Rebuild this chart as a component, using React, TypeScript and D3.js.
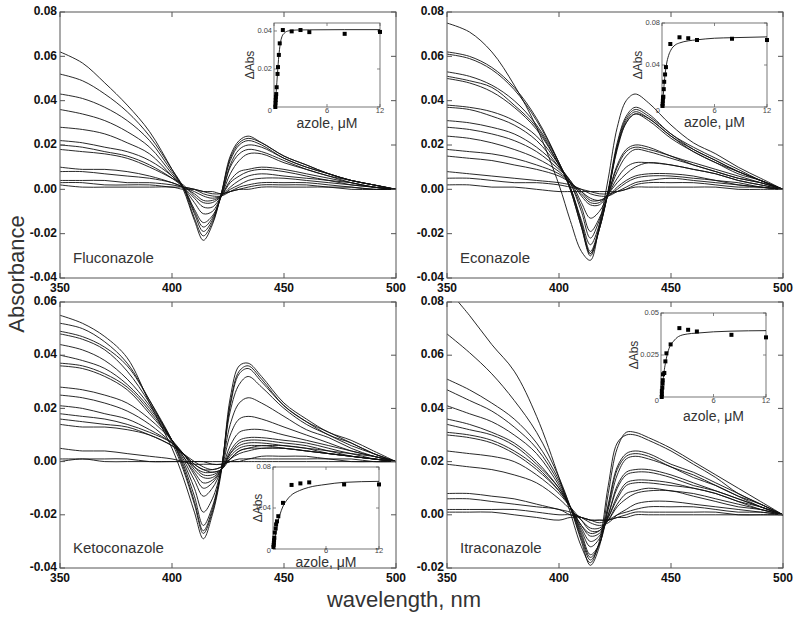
import React from "react";
import * as d3 from "d3";

// ---------- DATA ----------
const WAVELENGTHS = [350, 360, 370, 380, 390, 400, 405, 410, 414, 418, 422, 426, 430, 434, 440, 450, 460, 470, 480, 490, 500];

const FLUCONAZOLE_SPECTRA: number[][] = [
  [0.062, 0.057, 0.048, 0.038, 0.026, 0.009, 0.0, -0.014, -0.023, -0.016, -0.002, 0.015, 0.022, 0.024, 0.021, 0.015, 0.011, 0.007, 0.004, 0.002, 0],
  [0.052, 0.049, 0.043, 0.035, 0.024, 0.009, 0.001, -0.013, -0.021, -0.015, -0.002, 0.014, 0.021, 0.023, 0.021, 0.015, 0.011, 0.007, 0.004, 0.002, 0],
  [0.043, 0.041, 0.037, 0.031, 0.022, 0.008, 0.001, -0.011, -0.019, -0.014, -0.002, 0.013, 0.020, 0.022, 0.020, 0.014, 0.010, 0.007, 0.004, 0.002, 0],
  [0.036, 0.034, 0.031, 0.026, 0.019, 0.007, 0.001, -0.010, -0.017, -0.013, -0.003, 0.011, 0.018, 0.020, 0.019, 0.014, 0.010, 0.007, 0.004, 0.002, 0],
  [0.028, 0.027, 0.025, 0.021, 0.016, 0.006, 0.001, -0.009, -0.015, -0.012, -0.003, 0.010, 0.016, 0.018, 0.017, 0.013, 0.009, 0.006, 0.004, 0.002, 0],
  [0.022, 0.021, 0.019, 0.017, 0.013, 0.006, 0.001, -0.006, -0.011, -0.010, -0.003, 0.007, 0.013, 0.016, 0.016, 0.012, 0.009, 0.006, 0.003, 0.001, 0],
  [0.020, 0.019, 0.017, 0.015, 0.011, 0.005, 0.001, -0.004, -0.008, -0.008, -0.003, 0.004, 0.008, 0.009, 0.010, 0.009, 0.007, 0.005, 0.003, 0.001, 0],
  [0.018, 0.017, 0.016, 0.014, 0.010, 0.005, 0.002, -0.003, -0.006, -0.006, -0.003, 0.003, 0.006, 0.008, 0.009, 0.008, 0.006, 0.004, 0.003, 0.001, 0],
  [0.010, 0.009, 0.009, 0.008, 0.006, 0.003, 0.001, -0.002, -0.005, -0.005, -0.003, 0.001, 0.004, 0.006, 0.007, 0.006, 0.005, 0.004, 0.002, 0.001, 0],
  [0.008, 0.008, 0.007, 0.006, 0.005, 0.003, 0.001, -0.001, -0.003, -0.004, -0.003, 0.0, 0.002, 0.004, 0.005, 0.005, 0.004, 0.003, 0.002, 0.001, 0],
  [0.004, 0.004, 0.004, 0.003, 0.003, 0.002, 0.001, 0.0, -0.002, -0.003, -0.003, -0.001, 0.001, 0.002, 0.003, 0.003, 0.003, 0.002, 0.001, 0.0, 0],
  [0.003, 0.003, 0.002, 0.002, 0.002, 0.001, 0.001, 0.0, -0.001, -0.002, -0.002, -0.001, 0.0, 0.001, 0.002, 0.002, 0.002, 0.001, 0.001, 0.0, 0],
  [0.002, 0.001, 0.001, 0.001, 0.001, 0.001, 0.0, 0.0, -0.001, -0.001, -0.002, -0.001, 0.0, 0.0, 0.001, 0.001, 0.001, 0.001, 0.0, 0.0, 0],
];

const ECONAZOLE_SPECTRA: number[][] = [
  [0.075, 0.071, 0.062, 0.047, 0.028, 0.002, -0.014, -0.028, -0.032, -0.016, 0.005, 0.028, 0.040, 0.043, 0.039, 0.029, 0.021, 0.016, 0.010, 0.005, 0],
  [0.062, 0.060, 0.055, 0.046, 0.032, 0.012, 0.0, -0.017, -0.030, -0.018, 0.0, 0.021, 0.033, 0.037, 0.034, 0.025, 0.019, 0.014, 0.009, 0.004, 0],
  [0.061, 0.059, 0.054, 0.045, 0.031, 0.012, 0.0, -0.017, -0.029, -0.018, -0.001, 0.020, 0.032, 0.036, 0.033, 0.025, 0.018, 0.013, 0.008, 0.004, 0],
  [0.053, 0.051, 0.047, 0.040, 0.029, 0.012, 0.001, -0.016, -0.029, -0.018, -0.001, 0.019, 0.031, 0.035, 0.032, 0.024, 0.018, 0.013, 0.008, 0.004, 0],
  [0.051, 0.049, 0.046, 0.038, 0.028, 0.011, 0.001, -0.015, -0.028, -0.017, -0.001, 0.019, 0.030, 0.034, 0.032, 0.024, 0.017, 0.012, 0.008, 0.004, 0],
  [0.050, 0.048, 0.044, 0.037, 0.027, 0.011, 0.001, -0.014, -0.025, -0.016, -0.001, 0.018, 0.030, 0.034, 0.031, 0.023, 0.017, 0.012, 0.007, 0.004, 0],
  [0.038, 0.037, 0.035, 0.031, 0.024, 0.011, 0.003, -0.010, -0.022, -0.014, -0.002, 0.011, 0.018, 0.020, 0.019, 0.015, 0.012, 0.009, 0.006, 0.003, 0],
  [0.037, 0.036, 0.033, 0.029, 0.022, 0.010, 0.003, -0.008, -0.019, -0.013, -0.002, 0.010, 0.017, 0.019, 0.018, 0.015, 0.011, 0.008, 0.005, 0.003, 0],
  [0.031, 0.030, 0.028, 0.025, 0.019, 0.010, 0.004, -0.006, -0.013, -0.010, -0.002, 0.008, 0.015, 0.018, 0.017, 0.014, 0.011, 0.008, 0.005, 0.003, 0],
  [0.028, 0.027, 0.025, 0.022, 0.017, 0.009, 0.004, -0.003, -0.007, -0.007, -0.002, 0.005, 0.010, 0.012, 0.012, 0.011, 0.009, 0.007, 0.004, 0.002, 0],
  [0.024, 0.023, 0.021, 0.018, 0.014, 0.008, 0.003, -0.002, -0.006, -0.006, -0.002, 0.003, 0.007, 0.010, 0.012, 0.011, 0.009, 0.007, 0.004, 0.002, 0],
  [0.018, 0.017, 0.016, 0.014, 0.011, 0.007, 0.003, -0.001, -0.005, -0.005, -0.003, 0.001, 0.004, 0.006, 0.007, 0.007, 0.006, 0.004, 0.003, 0.001, 0],
  [0.015, 0.014, 0.013, 0.011, 0.009, 0.006, 0.003, -0.001, -0.004, -0.005, -0.003, 0.0, 0.003, 0.005, 0.006, 0.006, 0.005, 0.004, 0.002, 0.001, 0],
  [0.008, 0.007, 0.006, 0.005, 0.004, 0.003, 0.002, 0.0, -0.002, -0.003, -0.003, -0.001, 0.001, 0.003, 0.004, 0.005, 0.004, 0.003, 0.002, 0.001, 0],
  [0.005, 0.005, 0.004, 0.003, 0.003, 0.002, 0.001, 0.0, -0.001, -0.002, -0.002, -0.001, 0.0, 0.002, 0.003, 0.003, 0.003, 0.002, 0.001, 0.001, 0],
  [0.002, 0.002, 0.001, 0.001, 0.0, -0.001, -0.001, -0.001, -0.001, -0.001, -0.001, -0.001, 0.0, 0.001, 0.001, 0.001, 0.001, 0.001, 0.0, 0.0, 0],
];

const KETOCONAZOLE_SPECTRA: number[][] = [
  [0.055, 0.052, 0.047, 0.039, 0.022, 0.005, -0.006, -0.019, -0.029, -0.020, -0.004, 0.024, 0.036, 0.037, 0.032, 0.022, 0.016, 0.011, 0.008, 0.004, 0],
  [0.052, 0.050, 0.045, 0.037, 0.023, 0.007, -0.003, -0.016, -0.027, -0.019, -0.003, 0.022, 0.034, 0.036, 0.031, 0.021, 0.015, 0.011, 0.007, 0.003, 0],
  [0.049, 0.047, 0.043, 0.036, 0.023, 0.008, -0.002, -0.015, -0.026, -0.018, -0.003, 0.021, 0.033, 0.035, 0.030, 0.021, 0.015, 0.010, 0.007, 0.003, 0],
  [0.048, 0.046, 0.042, 0.034, 0.022, 0.008, -0.001, -0.013, -0.024, -0.017, -0.003, 0.019, 0.029, 0.032, 0.028, 0.020, 0.014, 0.010, 0.006, 0.003, 0],
  [0.044, 0.042, 0.038, 0.031, 0.021, 0.008, 0.0, -0.010, -0.019, -0.014, -0.003, 0.014, 0.022, 0.024, 0.022, 0.017, 0.012, 0.009, 0.005, 0.002, 0],
  [0.040, 0.038, 0.035, 0.029, 0.020, 0.008, 0.001, -0.007, -0.013, -0.010, -0.003, 0.010, 0.016, 0.017, 0.016, 0.013, 0.010, 0.007, 0.004, 0.002, 0],
  [0.037, 0.036, 0.033, 0.028, 0.019, 0.008, 0.002, -0.005, -0.010, -0.008, -0.003, 0.006, 0.011, 0.012, 0.012, 0.010, 0.008, 0.006, 0.004, 0.002, 0],
  [0.036, 0.035, 0.032, 0.027, 0.018, 0.008, 0.002, -0.004, -0.008, -0.007, -0.003, 0.004, 0.008, 0.009, 0.009, 0.008, 0.007, 0.005, 0.003, 0.002, 0],
  [0.028, 0.027, 0.025, 0.022, 0.016, 0.008, 0.003, -0.003, -0.006, -0.006, -0.003, 0.003, 0.007, 0.008, 0.008, 0.007, 0.006, 0.004, 0.003, 0.001, 0],
  [0.025, 0.024, 0.022, 0.019, 0.014, 0.007, 0.003, -0.002, -0.005, -0.005, -0.003, 0.003, 0.006, 0.007, 0.007, 0.006, 0.005, 0.004, 0.002, 0.001, 0],
  [0.021, 0.020, 0.018, 0.016, 0.012, 0.007, 0.003, -0.002, -0.004, -0.004, -0.003, 0.002, 0.005, 0.006, 0.006, 0.006, 0.005, 0.003, 0.002, 0.001, 0],
  [0.018, 0.017, 0.016, 0.014, 0.011, 0.007, 0.003, -0.001, -0.003, -0.004, -0.003, 0.001, 0.004, 0.005, 0.006, 0.005, 0.004, 0.003, 0.002, 0.001, 0],
  [0.016, 0.015, 0.014, 0.013, 0.010, 0.006, 0.003, -0.001, -0.003, -0.003, -0.002, 0.001, 0.004, 0.005, 0.005, 0.005, 0.004, 0.003, 0.002, 0.001, 0],
  [0.014, 0.013, 0.013, 0.012, 0.010, 0.006, 0.003, 0.0, -0.002, -0.003, -0.002, 0.001, 0.003, 0.004, 0.005, 0.005, 0.004, 0.003, 0.002, 0.001, 0],
  [0.005, 0.004, 0.004, 0.003, 0.002, 0.001, 0.0, -0.001, -0.001, -0.001, -0.001, 0.0, 0.001, 0.001, 0.002, 0.002, 0.002, 0.001, 0.001, 0.0, 0],
  [0.001, 0.001, 0.001, 0.001, 0.0, 0.0, 0.0, 0.0, 0.0, -0.001, -0.001, 0.0, 0.0, 0.001, 0.001, 0.001, 0.001, 0.001, 0.0, 0.0, 0],
  [0.0, 0.001, 0.0, 0.0, 0.0, 0.0, 0.0, 0.0, 0.0, 0.0, 0.0, 0.0, 0.0, 0.0, 0.0, 0.0, 0.0, 0.0, 0.0, 0.0, 0],
];

const ITRACONAZOLE_SPECTRA: number[][] = [
  [0.085, 0.075, 0.064, 0.054, 0.037, 0.014, 0.001, -0.012, -0.018, -0.010, 0.011, 0.027, 0.030, 0.030, 0.028, 0.024, 0.019, 0.014, 0.008, 0.004, 0],
  [0.068, 0.061, 0.053, 0.043, 0.031, 0.014, 0.003, -0.010, -0.019, -0.012, 0.008, 0.025, 0.031, 0.031, 0.029, 0.025, 0.020, 0.015, 0.010, 0.005, 0],
  [0.051, 0.047, 0.042, 0.036, 0.027, 0.013, 0.003, -0.009, -0.017, -0.011, 0.004, 0.018, 0.023, 0.024, 0.023, 0.019, 0.016, 0.012, 0.008, 0.004, 0],
  [0.047, 0.043, 0.039, 0.033, 0.025, 0.012, 0.003, -0.008, -0.016, -0.011, 0.003, 0.017, 0.022, 0.023, 0.022, 0.018, 0.015, 0.011, 0.007, 0.004, 0],
  [0.041, 0.038, 0.035, 0.030, 0.023, 0.011, 0.003, -0.007, -0.015, -0.011, 0.002, 0.015, 0.021, 0.022, 0.021, 0.018, 0.014, 0.011, 0.007, 0.003, 0],
  [0.036, 0.034, 0.031, 0.027, 0.020, 0.010, 0.003, -0.006, -0.012, -0.009, 0.0, 0.011, 0.016, 0.017, 0.017, 0.015, 0.012, 0.009, 0.006, 0.003, 0],
  [0.034, 0.032, 0.030, 0.026, 0.019, 0.010, 0.003, -0.005, -0.010, -0.008, 0.0, 0.010, 0.015, 0.016, 0.016, 0.014, 0.011, 0.009, 0.006, 0.003, 0],
  [0.031, 0.030, 0.028, 0.024, 0.018, 0.009, 0.003, -0.004, -0.008, -0.007, -0.001, 0.007, 0.012, 0.013, 0.013, 0.012, 0.010, 0.008, 0.005, 0.003, 0],
  [0.030, 0.029, 0.027, 0.023, 0.017, 0.009, 0.003, -0.004, -0.007, -0.006, -0.001, 0.006, 0.011, 0.012, 0.012, 0.011, 0.010, 0.008, 0.005, 0.002, 0],
  [0.024, 0.023, 0.022, 0.020, 0.015, 0.008, 0.003, -0.002, -0.006, -0.006, -0.002, 0.004, 0.008, 0.009, 0.010, 0.009, 0.008, 0.006, 0.004, 0.002, 0],
  [0.019, 0.018, 0.017, 0.015, 0.012, 0.006, 0.002, -0.002, -0.005, -0.005, -0.002, 0.003, 0.006, 0.008, 0.009, 0.009, 0.007, 0.005, 0.003, 0.002, 0],
  [0.008, 0.008, 0.007, 0.006, 0.004, 0.002, 0.001, -0.001, -0.003, -0.004, -0.003, 0.0, 0.002, 0.004, 0.005, 0.005, 0.004, 0.003, 0.002, 0.001, 0],
  [0.006, 0.006, 0.005, 0.004, 0.003, 0.002, 0.0, -0.001, -0.002, -0.003, -0.002, 0.0, 0.001, 0.002, 0.003, 0.003, 0.003, 0.002, 0.001, 0.001, 0],
  [0.002, 0.002, 0.002, 0.002, 0.001, 0.0, 0.0, -0.001, -0.002, -0.002, -0.002, -0.001, 0.0, 0.001, 0.001, 0.001, 0.001, 0.001, 0.0, 0.0, 0],
  [0.001, 0.001, 0.001, 0.0, -0.001, -0.002, -0.001, -0.001, -0.002, -0.002, -0.002, -0.001, -0.001, 0.0, 0.0, 0.0, 0.0, 0.0, 0.0, 0.0, 0],
];

// Titration insets (azole, µM vs ΔAbs) and fitted curves
const FLU_AZOLE = [0.15, 0.18, 0.2, 0.22, 0.25, 0.3, 0.4, 0.45, 0.55, 0.65, 1.0, 2.0, 3.0, 4.0, 8.0, 12.0];
const FLU_DABS = [0.0, 0.002, 0.0037, 0.0054, 0.0068, 0.0104, 0.0174, 0.021, 0.0274, 0.0335, 0.0405, 0.0398, 0.0405, 0.0394, 0.0385, 0.0395];
const FLU_FIT_X = [0.12, 0.25, 0.4, 0.55, 0.7, 0.9, 1.2, 1.6, 2.5, 4, 8, 12];
const FLU_FIT_Y = [0.0, 0.008, 0.018, 0.027, 0.033, 0.037, 0.039, 0.04, 0.0405, 0.0406, 0.0407, 0.0407];

const ECO_AZOLE = [0.05, 0.08, 0.1, 0.12, 0.15, 0.2, 0.25, 0.35, 0.45, 0.95, 2.0, 3.0, 4.0, 8.0, 12.0];
const ECO_DABS = [0.001, 0.003, 0.006, 0.009, 0.0098, 0.017, 0.024, 0.031, 0.038, 0.06, 0.0664, 0.0655, 0.0638, 0.065, 0.0638];
const ECO_FIT_X = [0.03, 0.15, 0.3, 0.5, 0.75, 1, 1.5, 2, 3, 4, 6, 8, 12];
const ECO_FIT_Y = [0.0, 0.012, 0.027, 0.04, 0.049, 0.054, 0.059, 0.061, 0.063, 0.064, 0.0655, 0.066, 0.0668];

const KETO_AZOLE = [0.05, 0.08, 0.1, 0.12, 0.15, 0.2, 0.3, 0.35, 0.45, 0.6, 1.13, 2.1, 3.1, 4.1, 8.05, 12.0];
const KETO_DABS = [0.002, 0.004, 0.006, 0.0084, 0.011, 0.016, 0.02, 0.024, 0.027, 0.032, 0.045, 0.0625, 0.064, 0.065, 0.063, 0.063];
const KETO_FIT_X = [0.02, 0.2, 0.4, 0.6, 0.8, 1.1, 1.5, 2, 3, 4, 6, 8, 12];
const KETO_FIT_Y = [0.0, 0.01, 0.02, 0.028, 0.034, 0.041, 0.047, 0.052, 0.057, 0.06, 0.063, 0.065, 0.066];

const ITRA_AZOLE = [0.08, 0.1, 0.1, 0.15, 0.18, 0.2, 0.23, 0.38, 0.5, 0.62, 1.1, 2.1, 3.1, 4.1, 8.05, 12.0];
const ITRA_DABS = [0.0, 0.0016, 0.0036, 0.0056, 0.008, 0.01, 0.0135, 0.0143, 0.0212, 0.026, 0.0313, 0.041, 0.04, 0.039, 0.037, 0.0355];
const ITRA_FIT_X = [0.06, 0.2, 0.35, 0.5, 0.7, 1, 1.4, 2, 3, 4, 6, 8, 12];
const ITRA_FIT_Y = [0.0, 0.008, 0.015, 0.02, 0.025, 0.03, 0.033, 0.036, 0.0375, 0.038, 0.0388, 0.0392, 0.0395];

// Tick values / labels
const X_TICKS = [350, 400, 450, 500];
const Y_TICKS_TOP = [-0.04, -0.02, 0, 0.02, 0.04, 0.06, 0.08];
const Y_TICKS_KETO = [-0.04, -0.02, 0, 0.02, 0.04, 0.06];
const Y_TICKS_ITRA = [-0.02, 0, 0.02, 0.04, 0.06, 0.08];
const INSET_X_TICKS = [0, 6, 12];
const INSET_X_LABELS = ["", "6", "12"];
const FLU_INSET_Y_TICKS = [0, 0.02, 0.04];
const FLU_INSET_Y_LABELS = ["0", "0.02", "0.04"];
const ECO_INSET_Y_TICKS = [0, 0.04, 0.08];
const ECO_INSET_Y_LABELS = ["0", "0.04", "0.08"];
const KETO_INSET_Y_TICKS = [0, 0.04, 0.08];
const KETO_INSET_Y_LABELS = ["0", "0.04", "0.08"];
const ITRA_INSET_Y_TICKS = [0, 0.025, 0.05];
const ITRA_INSET_Y_LABELS = ["0", "0.025", "0.05"];

const PANEL_NAMES = ["Fluconazole", "Econazole", "Ketoconazole", "Itraconazole"];

// ---------- LAYOUT ----------
const FONT = "Arial, 'Liberation Sans', Helvetica, sans-serif";
const FRAME = "#555";
const INK = "#111";

type InsetSpec = {
  x0: number; x1: number; y0: number; y1: number;
  yDomain: [number, number];
  yTicks: number[]; yLabels: string[];
  px: number[]; py: number[]; fx: number[]; fy: number[];
  labelDy: number; azoleY: number; dAbsX: number;
};

type PanelSpec = {
  id: string;
  x0: number; x1: number; y0: number; y1: number;
  yDomain: [number, number];
  yTicks: number[];
  spectra: number[][];
  name: string;
  inset: InsetSpec;
};

const PANELS: PanelSpec[] = [
  {
    id: "p0", x0: 60, x1: 396, y0: 12, y1: 278, yDomain: [-0.04, 0.08], yTicks: Y_TICKS_TOP,
    spectra: FLUCONAZOLE_SPECTRA, name: PANEL_NAMES[0],
    inset: { x0: 274, x1: 380, y0: 23, y1: 107, yDomain: [0, 0.0442], yTicks: FLU_INSET_Y_TICKS, yLabels: FLU_INSET_Y_LABELS,
      px: FLU_AZOLE, py: FLU_DABS, fx: FLU_FIT_X, fy: FLU_FIT_Y, labelDy: 4, azoleY: 128, dAbsX: 251 },
  },
  {
    id: "p1", x0: 447, x1: 783, y0: 12, y1: 278, yDomain: [-0.04, 0.08], yTicks: Y_TICKS_TOP,
    spectra: ECONAZOLE_SPECTRA, name: PANEL_NAMES[1],
    inset: { x0: 662, x1: 767, y0: 23, y1: 107, yDomain: [0, 0.08], yTicks: ECO_INSET_Y_TICKS, yLabels: ECO_INSET_Y_LABELS,
      px: ECO_AZOLE, py: ECO_DABS, fx: ECO_FIT_X, fy: ECO_FIT_Y, labelDy: 4, azoleY: 127, dAbsX: 639 },
  },
  {
    id: "p2", x0: 60, x1: 396, y0: 302, y1: 568, yDomain: [-0.04, 0.06], yTicks: Y_TICKS_KETO,
    spectra: KETOCONAZOLE_SPECTRA, name: PANEL_NAMES[2],
    inset: { x0: 273, x1: 379, y0: 467, y1: 549, yDomain: [0, 0.08], yTicks: KETO_INSET_Y_TICKS, yLabels: KETO_INSET_Y_LABELS,
      px: KETO_AZOLE, py: KETO_DABS, fx: KETO_FIT_X, fy: KETO_FIT_Y, labelDy: 2, azoleY: 567, dAbsX: 259 },
  },
  {
    id: "p3", x0: 447, x1: 783, y0: 302, y1: 568, yDomain: [-0.02, 0.08], yTicks: Y_TICKS_ITRA,
    spectra: ITRACONAZOLE_SPECTRA, name: PANEL_NAMES[3],
    inset: { x0: 661, x1: 766, y0: 313, y1: 397, yDomain: [0, 0.05], yTicks: ITRA_INSET_Y_TICKS, yLabels: ITRA_INSET_Y_LABELS,
      px: ITRA_AZOLE, py: ITRA_DABS, fx: ITRA_FIT_X, fy: ITRA_FIT_Y, labelDy: 4, azoleY: 421, dAbsX: 635 },
  },
];

function Inset({ s }: { s: InsetSpec }) {
  const x = d3.scaleLinear().domain([0, 12]).range([s.x0, s.x1]);
  const y = d3.scaleLinear().domain(s.yDomain).range([s.y1, s.y0]);
  const fitPts = s.fx.map((v, i) => [v, s.fy[i]] as [number, number]);
  const fit = d3.line<[number, number]>().x((d) => x(d[0])).y((d) => y(d[1])).curve(d3.curveMonotoneX)(fitPts) || "";
  const t = 3;
  return (
    <g>
      <rect x={s.x0} y={s.y0} width={s.x1 - s.x0} height={s.y1 - s.y0} fill="#fff" stroke={FRAME} strokeWidth={0.8} />
      {s.yTicks.map((v, i) => (
        <g key={"yt" + i}>
          <line x1={s.x0} x2={s.x0 + t} y1={y(v)} y2={y(v)} stroke={FRAME} strokeWidth={0.7} />
          <line x1={s.x1} x2={s.x1 - t} y1={y(v)} y2={y(v)} stroke={FRAME} strokeWidth={0.7} />
          <text x={s.x0 - 2} y={v === 0 ? s.y1 + s.labelDy : y(v)} textAnchor="end" dominantBaseline="middle"
            fontSize={7.5} fontFamily={FONT} fill="#444">{s.yLabels[i]}</text>
        </g>
      ))}
      {INSET_X_TICKS.map((v, i) => (
        <g key={"xt" + i}>
          <line x1={x(v)} x2={x(v)} y1={s.y1} y2={s.y1 - t} stroke={FRAME} strokeWidth={0.7} />
          <line x1={x(v)} x2={x(v)} y1={s.y0} y2={s.y0 + t} stroke={FRAME} strokeWidth={0.7} />
          <text x={x(v)} y={s.y1 + s.labelDy} textAnchor="middle" dominantBaseline="middle"
            fontSize={7.5} fontFamily={FONT} fill="#444">{INSET_X_LABELS[i]}</text>
        </g>
      ))}
      <path d={fit} fill="none" stroke={INK} strokeWidth={0.9} />
      {s.px.map((v, i) => (
        <rect key={"pt" + i} x={x(v) - 2} y={y(s.py[i]) - 2} width={4} height={4} fill="#000" />
      ))}
      <text x={(s.x0 + s.x1) / 2} y={s.azoleY} textAnchor="middle" fontSize={14} fontFamily={FONT} fill="#333">
        azole, μM
      </text>
      <text transform={`translate(${s.dAbsX},${(s.y0 + s.y1) / 2}) rotate(-90)`} textAnchor="middle"
        dominantBaseline="middle" fontSize={12} fontFamily={FONT} fill="#333">ΔAbs</text>
    </g>
  );
}

function Panel({ p }: { p: PanelSpec }) {
  const x = d3.scaleLinear().domain([350, 500]).range([p.x0, p.x1]);
  const y = d3.scaleLinear().domain(p.yDomain).range([p.y1, p.y0]);
  const line = d3
    .line<number>()
    .x((_, i) => x(WAVELENGTHS[i]))
    .y((d) => y(d))
    .curve(d3.curveCatmullRom.alpha(0.5));
  const tk = 5;
  return (
    <g>
      <defs>
        <clipPath id={"clip-" + p.id}>
          <rect x={p.x0} y={p.y0} width={p.x1 - p.x0} height={p.y1 - p.y0} />
        </clipPath>
      </defs>
      <g clipPath={`url(#clip-${p.id})`}>
        {p.spectra.map((s, i) => (
          <path key={i} d={line(s) || ""} fill="none" stroke={INK} strokeWidth={0.9} />
        ))}
      </g>
      <rect x={p.x0} y={p.y0} width={p.x1 - p.x0} height={p.y1 - p.y0} fill="none" stroke={FRAME} strokeWidth={1} />
      {p.yTicks.map((v, i) => (
        <g key={"y" + i}>
          <line x1={p.x0} x2={p.x0 + tk} y1={y(v)} y2={y(v)} stroke={FRAME} strokeWidth={1} />
          <line x1={p.x1} x2={p.x1 - tk} y1={y(v)} y2={y(v)} stroke={FRAME} strokeWidth={1} />
          <text x={p.x0 - 3} y={y(v)} textAnchor="end" dominantBaseline="middle" fontSize={12}
            fontWeight="bold" fontFamily={FONT} fill="#111">{v.toFixed(2)}</text>
        </g>
      ))}
      {X_TICKS.map((v, i) => (
        <g key={"x" + i}>
          <line x1={x(v)} x2={x(v)} y1={p.y1} y2={p.y1 - tk} stroke={FRAME} strokeWidth={1} />
          <line x1={x(v)} x2={x(v)} y1={p.y0} y2={p.y0 + tk} stroke={FRAME} strokeWidth={1} />
          <text x={x(v)} y={p.y1 + 11} textAnchor="middle" dominantBaseline="middle" fontSize={12}
            fontWeight="bold" fontFamily={FONT} fill="#111">{v}</text>
        </g>
      ))}
      <text x={p.x0 + 13} y={p.y1 - 15} fontSize={15} fontFamily={FONT} fill="#333">{p.name}</text>
      <Inset s={p.inset} />
    </g>
  );
}

export default function App() {
  return (
    <svg width={800} height={621} viewBox="0 0 800 621"
      style={{ position: "absolute", left: 0, top: 0, background: "#fff" }}>
      <rect x={0} y={0} width={800} height={621} fill="#fff" />
      {PANELS.map((p) => (
        <Panel key={p.id} p={p} />
      ))}
      <text transform="translate(24,274) rotate(-90)" textAnchor="middle" fontSize={22} fontFamily={FONT} fill="#333">
        Absorbance
      </text>
      <text x={404} y={607} textAnchor="middle" fontSize={22} fontFamily={FONT} fill="#333">
        wavelength, nm
      </text>
    </svg>
  );
}
